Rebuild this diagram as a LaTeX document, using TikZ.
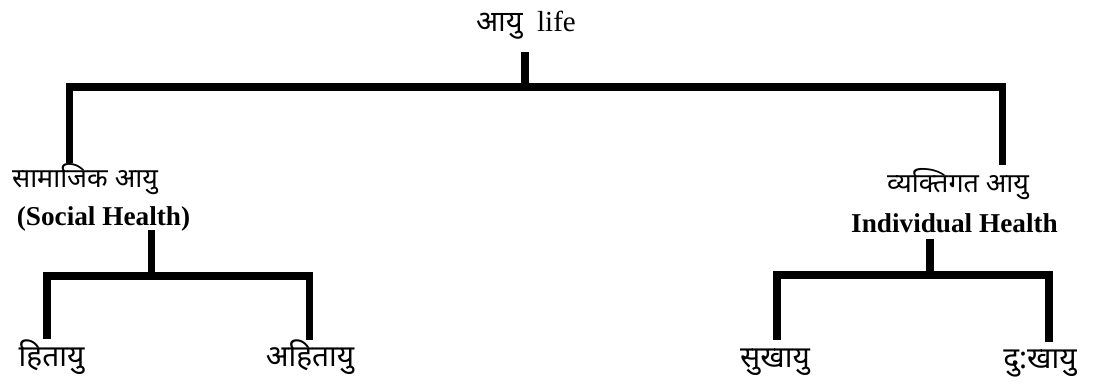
\documentclass[tikz,border=0pt]{standalone}
\usepackage{fontspec}
\setmainfont{Liberation Serif}
\newfontfamily\deva[Script=Devanagari]{Noto Sans}

\tikzset{
  bar/.style={line width=4.2pt},
  lbl/.style={inner sep=0pt, anchor=base},
  hindi/.style={lbl, font=\deva\fontsize{15.3}{17}\selectfont},
  leaf/.style={lbl, font=\deva\fontsize{17}{19}\selectfont},
  eng/.style={lbl, font=\bfseries\fontsize{15.5}{18}\selectfont},
}

\begin{document}
\begin{tikzpicture}[x=0.02cm, y=-0.02cm]
\useasboundingbox (0,0) rectangle (1107,385);

% root
\node[lbl, font=\fontsize{16.5}{19}\selectfont] (life) at (526,32) {{\deva आयु}\ \ life};

% second level
\node[hindi] (samajik) at (85,188) {सामाजिक आयु};
\node[eng] (social) at (103.5,226) {(Social Health)};
\node[hindi] (vyakti) at (958,193) {व्यक्तिगत आयु};
\node[eng] (indiv) at (954.5,233) {Individual Health};

% leaves
\node[leaf] (hita) at (51.5,366) {हितायु};
\node[leaf] (ahita) at (310,366) {अहितायु};
\node[leaf] (sukha) at (775,367) {सुखायु};
\node[leaf] (dukha) at (1040,368) {दु:खायु};

% bracket points
\coordinate (rootstem) at (525,52);
\coordinate (rootbar) at (525,87);
\coordinate (socend) at (69.5,163);
\coordinate (indend) at (1002.5,165);
\coordinate (socstem) at (151.5,230);
\coordinate (socbar) at (151.5,276);
\coordinate (hitaend) at (47,339);
\coordinate (ahitaend) at (309.5,340);
\coordinate (indstem) at (930,239);
\coordinate (indbar) at (930,275);
\coordinate (sukhaend) at (777,340);
\coordinate (dukhaend) at (1049,342);

\draw[bar] (rootstem) -- (rootbar);
\draw[bar] (socend) |- (rootbar) -| (indend);
\draw[bar] (socstem) -- (socbar);
\draw[bar] (hitaend) |- (socbar) -| (ahitaend);
\draw[bar] (indstem) -- (indbar);
\draw[bar] (sukhaend) |- (indbar) -| (dukhaend);
\end{tikzpicture}
\end{document}
